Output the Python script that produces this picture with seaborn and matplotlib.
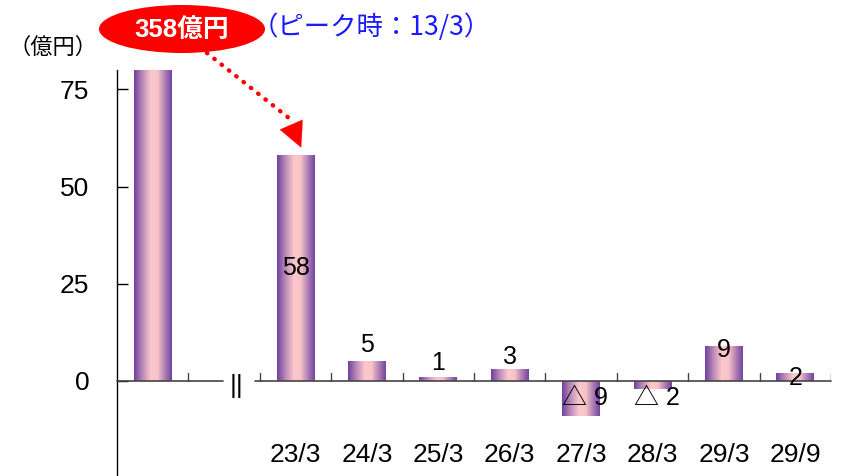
import numpy as np
import pandas as pd
import matplotlib
matplotlib.use("Agg")
import matplotlib.pyplot as plt
from matplotlib.colors import LinearSegmentedColormap
from matplotlib.patches import Ellipse
import seaborn as sns

# 年度末残高の増減（億円）
categories = ["13/3", "", "23/3", "24/3", "25/3", "26/3", "27/3", "28/3", "29/3", "29/9"]
values = [358, 0, 58, 5, 1, 3, -9, -2, 9, 2]
value_labels = ["", "", "58", "5", "1", "3", "△ 9", "△ 2", "9", "2"]
yticks = [0, 25, 50, 75]
peak_label = "358億円"
peak_note = "（ピーク時：13/3）"
unit_label = "（億円）"

sns.set_theme(style="white")
plt.rcParams["font.family"] = ["Liberation Sans", "Noto Sans CJK JP", "DejaVu Sans"]

YMIN, YMAX = -24.5, 80

fig = plt.figure(figsize=(8.42, 4.76), dpi=100)
ax = fig.add_axes([0.139, 0.0, 0.848, 0.853])

df = pd.DataFrame({"cat": categories, "val": values})
df["pos"] = range(len(df))
sns.barplot(data=df, x="pos", y="val", ax=ax, width=0.53, color="#7b4aa6",
            edgecolor="none", linewidth=0)

# horizontal purple-pink-purple shading inside every bar
cmap = LinearSegmentedColormap.from_list(
    "barshade", [(0.0, "#6f3f9e"), (0.22, "#b98ab8"), (0.45, "#fcc8cb"),
                 (0.62, "#f9c4c9"), (0.85, "#a374b0"), (1.0, "#7442a2")])
grad = np.linspace(0, 1, 256).reshape(1, -1)
for patch in ax.patches:
    x0, y0 = patch.get_x(), patch.get_y()
    w, h = patch.get_width(), patch.get_height()
    if h == 0:
        patch.set_visible(False)
        continue
    patch.set_facecolor("none")
    lo = max(min(y0, y0 + h), YMIN)
    hi = min(max(y0, y0 + h), YMAX)
    im = ax.imshow(grad, cmap=cmap, aspect="auto", interpolation="bicubic",
                   extent=[x0, x0 + w, lo, hi], zorder=2)
    im.set_clip_path(patch)
ax.set_xlim(-0.5, len(categories) - 0.5)
ax.set_ylim(YMIN, YMAX)

# spines and ticks
for s in ["top", "right", "bottom"]:
    ax.spines[s].set_visible(False)
ax.spines["left"].set_color("#000000")
ax.spines["left"].set_linewidth(1.0)
ax.set_yticks(yticks)
ax.set_yticklabels([str(t) for t in yticks], fontsize=19)
ax.tick_params(axis="y", direction="in", length=8, width=1.0, pad=20, colors="#000000",
               left=True)
ax.set_xticks(range(len(categories)))
ax.set_xticklabels([])
ax.tick_params(axis="x", length=0, bottom=False)
ax.set_xlabel("")
ax.set_ylabel("")

# zero line with a break between the peak and the later years
ax.plot([-0.5, 0.985], [0, 0], color="#444444", lw=1.2, zorder=3, clip_on=False)
ax.plot([1.43, len(categories) - 0.5], [0, 0], color="#444444", lw=1.2, zorder=3,
        clip_on=False)
ax.text(1.18, -1.3, "||", ha="center", va="center", fontsize=19, color="#000000")
for b in [0.5] + list(np.arange(1.5, len(categories), 1.0)):
    ax.plot([b, b], [0, 2.0], color="#444444", lw=1.0, zorder=3)

# category labels under the axis
for i, c in enumerate(categories):
    if c and i >= 2:
        ax.text(i, -19.2, c, ha="center", va="center", fontsize=19, color="#000000")

# value labels (pixel offsets from bar end, None = centred in the bar)
label_offsets = {2: None, 3: 16, 4: 14, 5: 12, 6: -17, 7: -17, 8: -4, 9: -5}
for i, (v, lab) in enumerate(zip(values, value_labels)):
    if not lab:
        continue
    off = label_offsets[i]
    if off is None:
        ax.text(i, v / 2, lab, ha="center", va="center", fontsize=18, color="#000000",
                zorder=5)
    elif v < 0:
        ax.annotate(lab, (i + 0.06, 0), xytext=(0, off), textcoords="offset pixels",
                    ha="center", va="center", fontsize=18, color="#000000", zorder=5)
    else:
        ax.annotate(lab, (i, v), xytext=(0, off), textcoords="offset pixels",
                    ha="center", va="center", fontsize=18, color="#000000", zorder=5)

# peak callout
ell = Ellipse((182 / 842, 1 - 29 / 476), 166 / 842, 48 / 476, transform=fig.transFigure,
              facecolor="#ff0000", edgecolor="none", zorder=10)
fig.patches.append(ell)
fig.text(182 / 842, 1 - 30 / 476, peak_label, ha="center", va="center", fontsize=18.5,
         fontweight="bold", color="white", family=["Liberation Sans", "Noto Sans CJK JP"],
         zorder=11)
fig.text(252 / 842, 1 - 27 / 476, peak_note, ha="left", va="center", fontsize=19,
         color="#1a1aff", family=["Noto Sans CJK JP"])
fig.text(8 / 842, 1 - 47 / 476, unit_label, ha="left", va="center", fontsize=16,
         color="#000000", family=["Noto Sans CJK JP"])

# dotted red arrow from the callout down to the first later bar
start = (207 / 842, 1 - 53 / 476)
tip = (2.08, values[2] + 2.0)
ax.annotate("", xy=(1.95, values[2] + 9), xycoords="data",
            xytext=start, textcoords="figure fraction",
            arrowprops=dict(arrowstyle="-", color="#ff0000", lw=3.2,
                            linestyle=(0, (0.1, 2.0)), capstyle="round",
                            shrinkA=0, shrinkB=0),
            annotation_clip=False, zorder=12)
ax.annotate("", xy=tip, xycoords="data",
            xytext=(1.82, values[2] + 13), textcoords="data",
            arrowprops=dict(arrowstyle="-|>,head_length=1.5,head_width=0.75",
                            color="#ff0000", lw=0.1, shrinkA=0, shrinkB=0),
            annotation_clip=False, zorder=12)

fig.savefig("out.png", dpi=100)
